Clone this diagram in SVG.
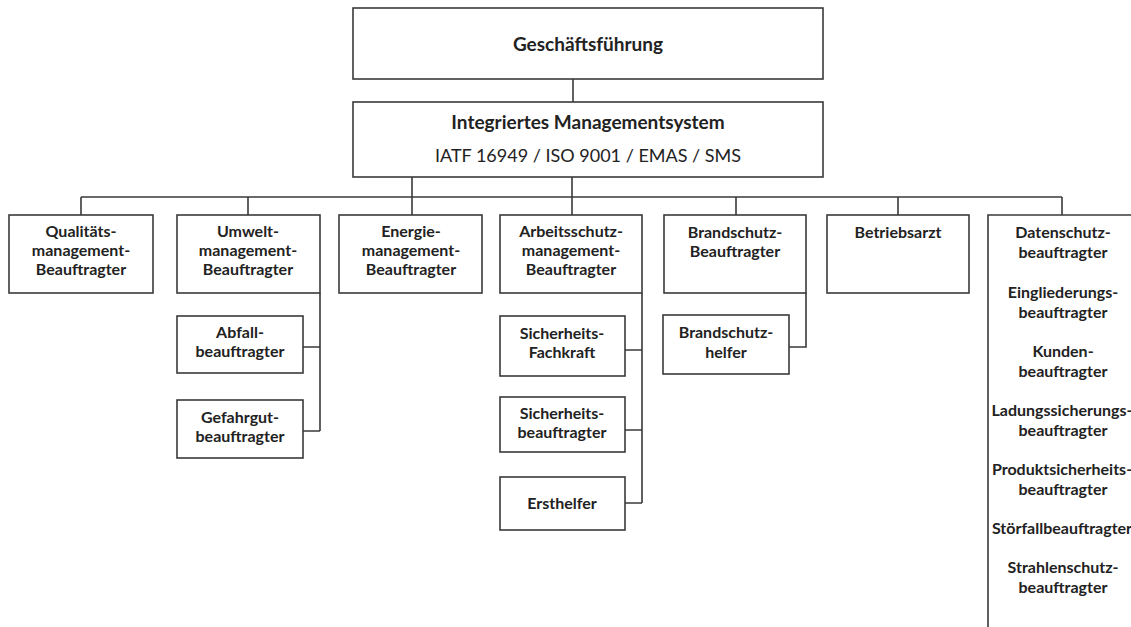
<svg xmlns="http://www.w3.org/2000/svg" width="1131" height="627" viewBox="0 0 1131 627">
<style>
.box{fill:#fff;stroke:#3a3a3a;stroke-width:1.6}
.ln{fill:none;stroke:#3a3a3a;stroke-width:1.6}
text{font-family:Lato,"Open Sans","Liberation Sans",sans-serif;fill:#222;text-anchor:middle}
.b{font-weight:bold;font-size:16px}
.h{font-weight:bold;font-size:19px}
.r{font-size:18px}
</style>
<rect width="1131" height="627" fill="#fff"/>
<g id="connectors">
<path class="ln" d="M573 79V102"/>
<path class="ln" d="M81 197H1062"/>
<path class="ln" d="M81 197V215M248 197V215M412 177V215M572 177V215M736 197V215M898 197V215M1062 197V215"/>
<path class="ln" d="M320 293V431M303 347H320M303 431H320"/>
<path class="ln" d="M642 293V503M625 350H642M625 430H642M625 503H642"/>
<path class="ln" d="M806 293V347H789"/>
</g>
<g id="geschaeftsfuehrung"><rect class="box" x="353" y="8" width="470" height="71"/><text class="h" x="588" y="51">Geschäftsführung</text></g>
<g id="ims"><rect class="box" x="353" y="102" width="470" height="75"/><text class="h" x="588" y="129">Integriertes Managementsystem</text><text class="r" x="588" y="162">IATF 16949 / ISO 9001 / EMAS / SMS</text></g>
<g id="qm"><rect class="box" x="9" y="215" width="144" height="78"/><text class="b" x="81" y="237">Qualitäts-</text><text class="b" x="81" y="256">management-</text><text class="b" x="81" y="275">Beauftragter</text></g>
<g id="um"><rect class="box" x="177" y="215" width="143" height="78"/><text class="b" x="248" y="237">Umwelt-</text><text class="b" x="248" y="256">management-</text><text class="b" x="248" y="275">Beauftragter</text></g>
<g id="em"><rect class="box" x="339" y="215" width="143" height="78"/><text class="b" x="411" y="237">Energie-</text><text class="b" x="411" y="256">management-</text><text class="b" x="411" y="275">Beauftragter</text></g>
<g id="as"><rect class="box" x="500" y="215" width="142" height="78"/><text class="b" x="571" y="237">Arbeitsschutz-</text><text class="b" x="571" y="256">management-</text><text class="b" x="571" y="275">Beauftragter</text></g>
<g id="bs"><rect class="box" x="664" y="215" width="142" height="78"/><text class="b" x="735" y="238">Brandschutz-</text><text class="b" x="735" y="257">Beauftragter</text></g>
<g id="ba"><rect class="box" x="827" y="215" width="142" height="78"/><text class="b" x="898" y="238">Betriebsarzt</text></g>
<g id="ds"><path class="ln" d="M988 627V215H1131"/>
<text class="b" x="1063" y="238">Datenschutz-</text><text class="b" x="1063" y="258">beauftragter</text>
<text class="b" x="1063" y="298">Eingliederungs-</text><text class="b" x="1063" y="318">beauftragter</text>
<text class="b" x="1063" y="357">Kunden-</text><text class="b" x="1063" y="377">beauftragter</text>
<text class="b" x="1062" y="416">Ladungssicherungs-</text><text class="b" x="1063" y="436">beauftragter</text>
<text class="b" x="1062" y="475">Produktsicherheits-</text><text class="b" x="1063" y="495">beauftragter</text>
<text class="b" x="1062" y="534">Störfallbeauftragter</text>
<text class="b" x="1063" y="573">Strahlenschutz-</text><text class="b" x="1063" y="593">beauftragter</text></g>
<g id="abfall"><rect class="box" x="177" y="316" width="126" height="57"/><text class="b" x="240" y="338">Abfall-</text><text class="b" x="240" y="357">beauftragter</text></g>
<g id="gefahrgut"><rect class="box" x="177" y="400" width="126" height="58"/><text class="b" x="240" y="423">Gefahrgut-</text><text class="b" x="240" y="442">beauftragter</text></g>
<g id="sifa"><rect class="box" x="500" y="316" width="125" height="60"/><text class="b" x="562" y="339">Sicherheits-</text><text class="b" x="562" y="358">Fachkraft</text></g>
<g id="sibe"><rect class="box" x="500" y="397" width="125" height="55"/><text class="b" x="562" y="419">Sicherheits-</text><text class="b" x="562" y="438">beauftragter</text></g>
<g id="ersthelfer"><rect class="box" x="500" y="477" width="125" height="53"/><text class="b" x="562" y="509">Ersthelfer</text></g>
<g id="bsh"><rect class="box" x="663" y="315" width="126" height="59"/><text class="b" x="726" y="338">Brandschutz-</text><text class="b" x="726" y="358">helfer</text></g>
</svg>
